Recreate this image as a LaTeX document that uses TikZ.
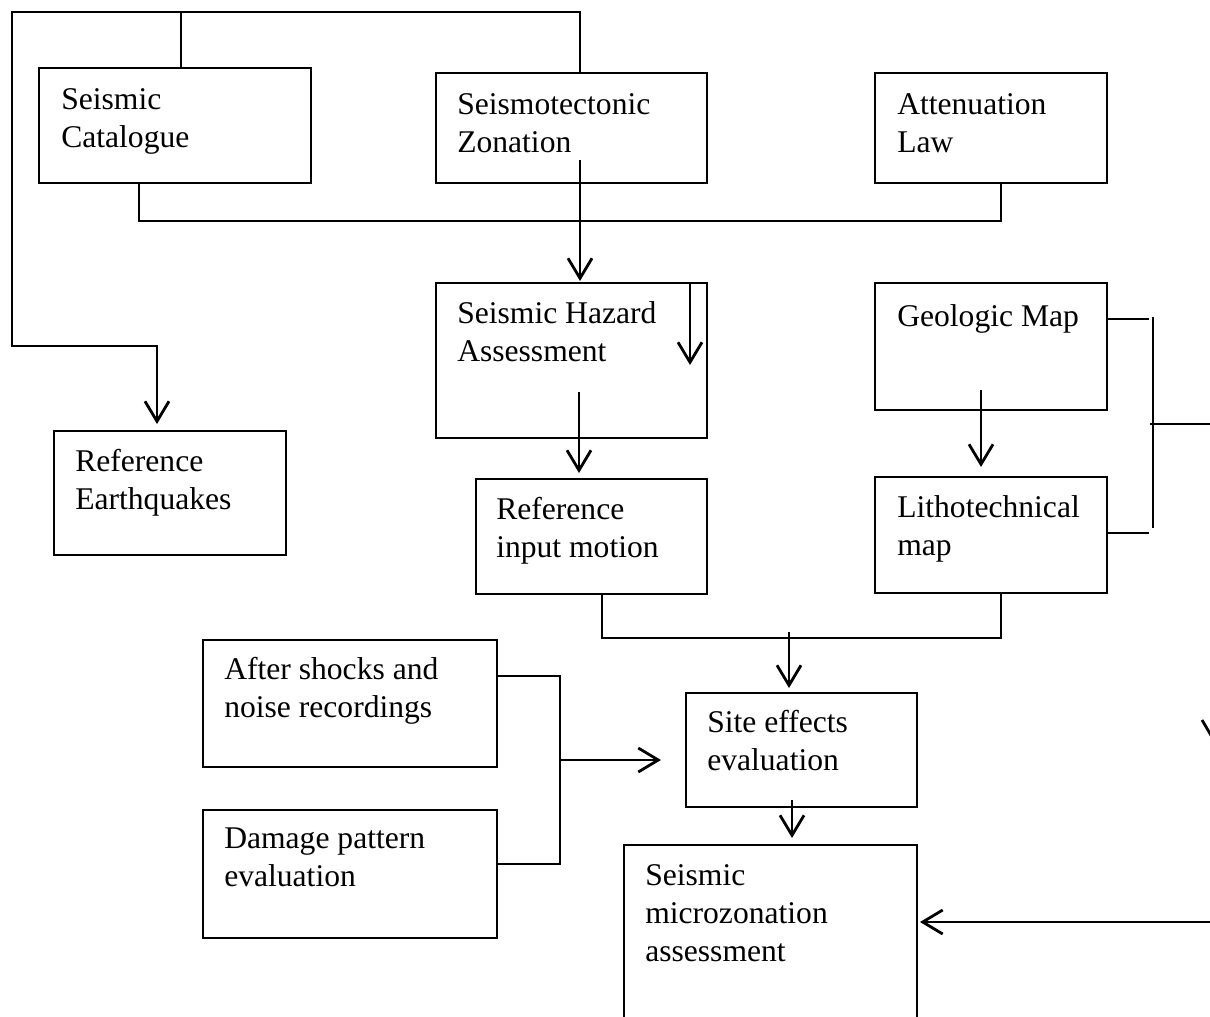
\documentclass[tikz,border=0pt]{standalone}
\usepackage{fontspec}
\setmainfont{Liberation Serif}
\usetikzlibrary{arrows.meta,calc}
\newdimen\pxu \pxu=0.75pt
\tikzset{
 bx/.style={draw, line width=1.9pt, anchor=north west, inner sep=0pt, outer sep=0pt},
 lbl/.style={anchor=base west, align=left, inner sep=0pt, font=\fontsize{23.7pt}{28.5pt}\selectfont},
 ln/.style={line width=2.1pt},
 ar/.style={ln, -{Straight Barb[length=15pt,width=18pt,line width=2.1pt]}},
}
\newcommand\mkbox[5]{\node[bx, minimum width=#4\pxu, minimum height=#5\pxu] (#1) at (#2,#3) {};}
\begin{document}
\begin{tikzpicture}[x=0.75pt,y=-0.75pt]
\fill[white] (0,0) rectangle (1210,1017);
\useasboundingbox (0,0) rectangle (1210,1017);
% boxes
\mkbox{cat}{39}{68}{272}{115}
\mkbox{zon}{436}{73}{271}{110}
\mkbox{att}{875}{73}{232}{110}
\mkbox{haz}{436}{283}{271}{155}
\mkbox{geo}{875}{283}{232}{127}
\mkbox{req}{54}{431}{232}{124}
\mkbox{rim}{476}{479}{231}{115}
\mkbox{lit}{875}{477}{232}{116}
\mkbox{aft}{203}{640}{294}{127}
\mkbox{site}{686}{693}{231}{114}
\mkbox{dmg}{203}{810}{294}{128}
\node[bx, draw=none, minimum width=293\pxu, minimum height=172\pxu] (mic) at (624,845) {};
\draw[bx] (mic.south west) -- (mic.north west) -- (mic.north east) -- (mic.south east);
% labels (base anchor = baseline of last line)
\node[lbl] (lcat) at ($(cat.north west)+(22,79)$) {Seismic\\Catalogue};
\node[lbl] (lzon) at ($(zon.north west)+(21,79)$) {Seismotectonic\\Zonation};
\node[lbl] (latt) at ($(att.north west)+(22,79)$) {Attenuation\\Law};
\node[lbl] (lhaz) at ($(haz.north west)+(21,78)$) {Seismic Hazard\\Assessment};
\node[lbl] (lgeo) at ($(geo.north west)+(22,43)$) {Geologic Map};
\node[lbl] (lreq) at ($(req.north west)+(21,78)$) {Reference\\Earthquakes};
\node[lbl] (lrim) at ($(rim.north west)+(20,78)$) {Reference\\input motion};
\node[lbl] (llit) at ($(lit.north west)+(22,78)$) {Lithotechnical\\map};
\node[lbl] (laft) at ($(aft.north west)+(21,77)$) {After shocks and\\noise recordings};
\node[lbl] (lsite) at ($(site.north west)+(21,77)$) {Site effects\\evaluation};
\node[lbl] (ldmg) at ($(dmg.north west)+(21,76)$) {Damage pattern\\evaluation};
\node[lbl] (lmic) at ($(mic.north west)+(21,116)$) {Seismic\\microzonation\\assessment};
% junction coordinates
\coordinate (tl) at (12,12);
\coordinate (tcat) at (181,12);
\coordinate (tzon) at (580,12);
\coordinate (lb) at (12,346);
\coordinate (lr) at (157,346);
\coordinate (b1) at (139,221);
\coordinate (b3) at (1001,221);
\coordinate (zin) at (580,160);
\coordinate (hin) at (690,365);
\coordinate (hout) at (579,392);
\coordinate (gout) at (981,390);
\coordinate (g1) at (1149,319);
\coordinate (l1) at (1149,533);
\coordinate (bt) at (1153,317);
\coordinate (bb) at (1153,528);
\coordinate (bm) at (1150,424);
\coordinate (be) at (1210,424);
\coordinate (m1) at (602,638);
\coordinate (m2) at (1001,638);
\coordinate (sin) at (789,632);
\coordinate (k1) at (560,676);
\coordinate (k2) at (560,864);
\coordinate (karr) at (560,760);
\coordinate (sout) at (792,800);
\coordinate (rr) at (1210,922);
\coordinate (cut1) at (1202,720);
\coordinate (cut2) at (1212,737);
% connectors
\draw[ln] (tcat) -- (cat.north -| tcat);
\draw[ar, shorten >=7\pxu] (zon.north -| tzon) -- (tzon) -- (tl) -- (lb) -- (lr) -- (req.north -| lr);
\draw[ln] (cat.south -| b1) -- (b1) -- (b3) -- (att.south -| b3);
\draw[ar, shorten >=2\pxu] (zin) -- (haz.north -| zin);
\draw[ar] (haz.north -| hin) -- (hin);
\draw[ar, shorten >=6\pxu] (hout) -- (rim.north -| hout);
\draw[ar, shorten >=10\pxu] (gout) -- (lit.north -| gout);
\draw[ln] (g1 -| geo.east) -- (g1);
\draw[ln] (l1 -| lit.east) -- (l1);
\draw[ln] (bt) -- (bb);
\draw[ln] (bm) -- (be);
\draw[ln] (rim.south -| m1) -- (m1) -- (m2) -- (lit.south -| m2);
\draw[ar, shorten >=5\pxu] (sin) -- (site.north -| sin);
\draw[ln] (k1 -| aft.east) -- (k1) -- (k2) -- (k2 -| dmg.east);
\draw[ar, shorten >=25\pxu] (karr) -- (karr -| site.west);
\draw[ar, shorten >=7\pxu] (sout) -- (mic.north -| sout);
\draw[ar, shorten >=3\pxu] (rr) -- (rr -| mic.east);
\draw[ln] (cut1) -- (cut2);
\end{tikzpicture}
\end{document}
